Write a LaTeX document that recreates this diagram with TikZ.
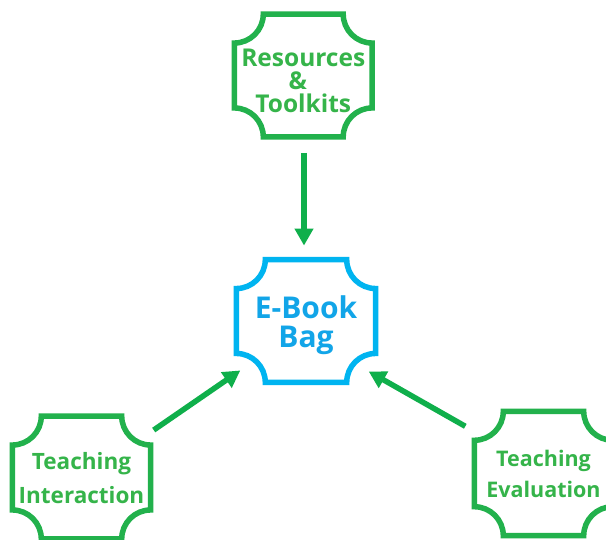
\documentclass[tikz,border=0pt]{standalone}
\usepackage{fontspec}
\setmainfont{Open Sans}
\usetikzlibrary{arrows.meta,calc}
\definecolor{boxgreen}{HTML}{22B14C}
\definecolor{txtgreen}{HTML}{35B44A}
\definecolor{boxblue}{HTML}{00B4F0}
\definecolor{txtblue}{HTML}{12A5E8}
\definecolor{arrowgreen}{HTML}{0FAF4B}
\tikzset{
  plaquenode/.style={inner sep=0pt,align=center,font=\bfseries},
  link/.style={draw=arrowgreen,line width=5.5pt,-{Triangle[length=17pt,width=18pt]},shorten >=0pt},
}
\newcommand{\plaque}[3]{%
  \draw[#2,line width=5.5pt,miter limit=10]
    ([xshift=#3pt]#1.north west) -- ([xshift=-#3pt]#1.north east)
    arc[start angle=180,end angle=270,radius=#3pt]
    -- ([yshift=#3pt]#1.south east)
    arc[start angle=90,end angle=180,radius=#3pt]
    -- ([xshift=#3pt]#1.south west)
    arc[start angle=0,end angle=90,radius=#3pt]
    -- ([yshift=-#3pt]#1.north west)
    arc[start angle=270,end angle=360,radius=#3pt]
    -- cycle;}
\begin{document}
\begin{tikzpicture}[x=1pt,y=1pt]
\clip (0,0) rectangle (606,539);
\fill[white] (0,0) rectangle (606,539);
\node[plaquenode,minimum width=137.5pt,minimum height=122.5pt,text=txtgreen,font=\bfseries\fontsize{24.5}{23}\selectfont] (res) at (303.25,463.5) {\rule{0pt}{28pt}Resources\\\&\rule{11pt}{0pt}\\Toolkits};
\node[plaquenode,minimum width=139pt,minimum height=122.5pt,text=txtblue,font=\bfseries\fontsize{30}{29}\selectfont] (bag) at (306,218) {\rule{0pt}{31pt}E-Book\\Bag};
\node[plaquenode,minimum width=138pt,minimum height=122.5pt,text=txtgreen,font=\bfseries\fontsize{22.5}{34}\selectfont] (int) at (81.5,61.5) {\rule{0pt}{19pt}Teaching\\Interaction};
\node[plaquenode,minimum width=138pt,minimum height=124pt,text=txtgreen,font=\bfseries\fontsize{21.5}{31}\selectfont] (eva) at (543.5,65.5) {Teaching\\Evaluation};
\plaque{res}{boxgreen}{29}
\plaque{bag}{boxblue}{29}
\plaque{int}{boxgreen}{29}
\plaque{eva}{boxgreen}{29}
\draw[link] ([xshift=0.75pt,yshift=-16pt]res.south) -- ([xshift=-2pt,yshift=14pt]bag.north);
\draw[link] ($(int.north east)+(3,-14)$) -- ($(bag.south west)+(4,12)$);
\draw[link] ($(eva.north west)+(-9,-15)$) -- ($(bag.south east)+(-7,11)$);
\end{tikzpicture}
\end{document}
